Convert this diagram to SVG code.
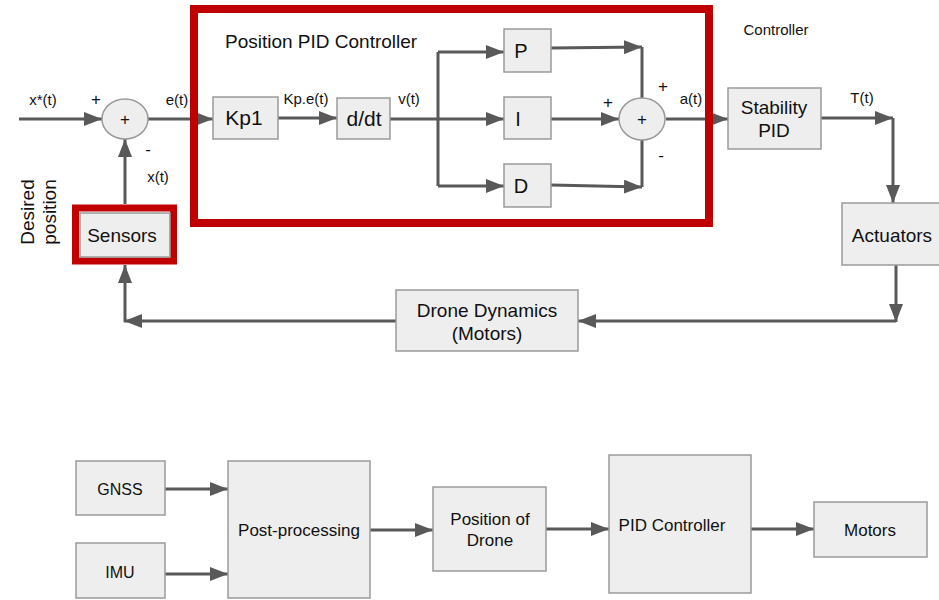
<svg xmlns="http://www.w3.org/2000/svg" width="939" height="600" viewBox="0 0 939 600">
<defs>
<marker id="ah" markerUnits="userSpaceOnUse" markerWidth="18" markerHeight="14" refX="18" refY="7" orient="auto">
<path d="M0,0 L18,7 L0,14 z" fill="#595959"/>
</marker>
</defs>
<style>
.box{fill:#eeeeee;stroke:#9a9a9a;stroke-width:1.5}
.red{fill:none;stroke:#c00000;stroke-width:8}
.ln{fill:none;stroke:#595959;stroke-width:3}
.ar{fill:none;stroke:#595959;stroke-width:3;marker-end:url(#ah)}
text{font-family:"Liberation Sans",Arial,sans-serif;fill:#111111}
.t{font-size:19px;text-anchor:middle}
.b{font-size:17px;text-anchor:middle}
.s{font-size:15px;text-anchor:middle}
.pm{font-size:17px;text-anchor:middle}
</style>
<rect width="939" height="600" fill="#ffffff"/>

<g id="connectors">
<path class="ar" d="M19,119 H102"/>
<path class="ar" d="M148,119 H213"/>
<path class="ar" d="M278,118 H337"/>
<path class="ln" d="M390,119 H438"/>
<path class="ln" d="M438,52 V186"/>
<path class="ar" d="M438,52 H504"/>
<path class="ar" d="M438,119 H504"/>
<path class="ar" d="M438,186 H504"/>
<path class="ar" d="M551,48 L642,47"/>
<path class="ln" d="M642,47 V98"/>
<path class="ar" d="M551,119 H619"/>
<path class="ar" d="M551,185 L642,187"/>
<path class="ln" d="M642,187 V140"/>
<path class="ar" d="M666,119 H728"/>
<path class="ar" d="M821,118 H893"/>
<path class="ar" d="M893,118 V203"/>
<path class="ar" d="M896,265 V322"/>
<path class="ar" d="M896,321 H578"/>
<path class="ar" d="M396,321 H124"/>
<path class="ar" d="M125,322 V265"/>
<path class="ar" d="M125,204 V139"/>
<path class="ar" d="M165,489 H228"/>
<path class="ar" d="M165,574 H228"/>
<path class="ar" d="M370,530 H433"/>
<path class="ar" d="M546,529 H609"/>
<path class="ar" d="M751,529 H814"/>
</g>

<g id="labels">
<text class="s" x="43" y="105">x*(t)</text>
<text class="pm" x="96" y="105">+</text>
<text class="s" x="177" y="105">e(t)</text>
<text class="pm" x="148" y="155">-</text>
<text class="s" x="158" y="182">x(t)</text>
<text class="s" x="306" y="104">Kp.e(t)</text>
<text class="s" x="409" y="104">v(t)</text>
<text class="pm" x="608" y="108">+</text>
<text class="pm" x="663" y="92">+</text>
<text class="pm" x="661" y="161">-</text>
<text class="s" x="691" y="104">a(t)</text>
<text class="s" x="862" y="103">T(t)</text>
<text class="s" x="776" y="35">Controller</text>
<text class="t" transform="translate(34,212) rotate(-90)">Desired</text>
<text class="t" transform="translate(56,212) rotate(-90)">position</text>
</g>

<g id="position-pid">
<rect class="red" x="194" y="9" width="515" height="214"/>
<text x="225" y="48" style="font-size:19px">Position PID Controller</text>
</g>

<g id="sum1">
<ellipse cx="125" cy="119" rx="23" ry="20" class="box"/>
<text class="pm" x="125" y="125">+</text>
</g>
<g id="sensors">
<rect class="red" x="75.5" y="208" width="98" height="53" style="stroke-width:7"/>
<rect class="box" x="80" y="213" width="90" height="44"/>
<text class="t" x="122" y="242">Sensors</text>
</g>
<g id="kp1">
<rect class="box" x="213" y="97" width="65" height="42"/>
<text class="t" x="244" y="125" style="font-size:21px">Kp1</text>
</g>
<g id="ddt">
<rect class="box" x="337" y="98" width="53" height="41"/>
<text class="t" x="364" y="126" style="font-size:21px">d/dt</text>
</g>
<g id="p">
<rect class="box" x="504" y="29" width="47" height="43"/>
<text class="t" x="521" y="58" style="font-size:20px">P</text>
</g>
<g id="i">
<rect class="box" x="504" y="97" width="47" height="42"/>
<text class="t" x="518" y="126" style="font-size:20px">I</text>
</g>
<g id="d">
<rect class="box" x="504" y="164" width="47" height="43"/>
<text class="t" x="521" y="193" style="font-size:20px">D</text>
</g>
<g id="sum2">
<ellipse cx="642" cy="119" rx="23" ry="21" class="box"/>
<text class="pm" x="642" y="125">+</text>
</g>
<g id="stability">
<rect class="box" x="728" y="88" width="93" height="61"/>
<text class="t" x="774" y="114">Stability</text>
<text class="t" x="774" y="137">PID</text>
</g>
<g id="actuators">
<rect class="box" x="842" y="203" width="100" height="62"/>
<text class="t" x="892" y="242">Actuators</text>
</g>
<g id="drone-dynamics">
<rect class="box" x="396" y="290" width="182" height="61"/>
<text class="t" x="487" y="317">Drone Dynamics</text>
<text class="t" x="487" y="340">(Motors)</text>
</g>

<g id="gnss">
<rect class="box" x="76" y="461" width="89" height="54"/>
<text class="b" x="120" y="495" style="font-size:16px">GNSS</text>
</g>
<g id="imu">
<rect class="box" x="76" y="543" width="89" height="55"/>
<text class="b" x="120" y="578" style="font-size:16px">IMU</text>
</g>
<g id="post-processing">
<rect class="box" x="228" y="461" width="142" height="137"/>
<text class="b" x="299" y="536">Post-processing</text>
</g>
<g id="position-of-drone">
<rect class="box" x="433" y="487" width="113" height="84"/>
<text class="b" x="490" y="525">Position of</text>
<text class="b" x="490" y="546">Drone</text>
</g>
<g id="pid-controller">
<rect class="box" x="609" y="455" width="142" height="138"/>
<text class="b" x="672" y="531">PID Controller</text>
</g>
<g id="motors">
<rect class="box" x="814" y="502" width="113" height="55"/>
<text class="b" x="870" y="536">Motors</text>
</g>
</svg>
